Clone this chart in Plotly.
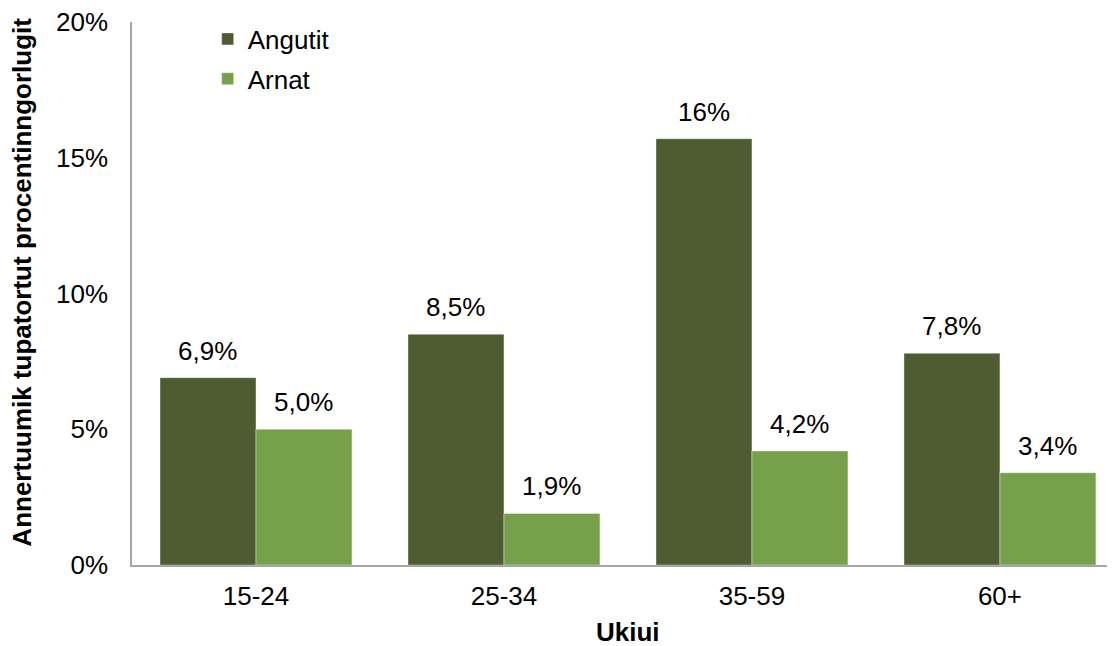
import plotly.graph_objects as go

categories = ["15-24", "25-34", "35-59", "60+"]
angutit = [6.9, 8.5, 15.7, 7.8]
arnat = [5.0, 1.9, 4.2, 3.4]
angutit_labels = ["6,9%", "8,5%", "16%", "7,8%"]
arnat_labels = ["5,0%", "1,9%", "4,2%", "3,4%"]
y_ticks = [0, 5, 10, 15, 20]
y_tick_text = ["0%", "5%", "10%", "15%", "20%"]

dark = "#4F5B31"
light = "#77A04A"
font_family = "Liberation Sans, Arial, sans-serif"
FS = 26

fig = go.Figure()
fig.add_trace(go.Bar(x=categories, y=angutit, name="Angutit", legendgroup="a",
                     marker=dict(color=dark, line=dict(color="rgba(255,255,255,0.5)", width=0.75))))
fig.add_trace(go.Bar(x=categories, y=arnat, name="Arnat", legendgroup="b",
                     marker=dict(color=light, line=dict(color="rgba(255,255,255,0.5)", width=0.75))))

annotations = []
for i, c in enumerate(categories):
    annotations.append(dict(x=c, y=angutit[i], xref="x", yref="y", text=angutit_labels[i],
                            showarrow=False, xshift=-48, yanchor="bottom", yshift=10,
                            font=dict(size=FS, color="#000000", family=font_family)))
    annotations.append(dict(x=c, y=arnat[i], xref="x", yref="y", text=arnat_labels[i],
                            showarrow=False, xshift=48, yanchor="bottom", yshift=10,
                            font=dict(size=FS, color="#000000", family=font_family)))

# axis titles
annotations.append(dict(x=0.5046, y=0, xref="paper", yref="paper", text="<b>Ukiui</b>",
                        showarrow=False, yanchor="middle", yshift=-67,
                        font=dict(size=FS, color="#000000", family=font_family)))
annotations.append(dict(x=0, y=0.52, xref="paper", yref="paper",
                        text="<b>Annertuumik tupatortut procentinngorlugit</b>",
                        showarrow=False, textangle=-90, xanchor="center", yanchor="middle",
                        xshift=-110, font=dict(size=FS, color="#000000", family=font_family)))

fig.update_layout(
    width=1107, height=638,
    margin=dict(l=124, r=0, t=14, b=81),
    paper_bgcolor="white", plot_bgcolor="white",
    barmode="group", bargap=0.226, bargroupgap=0,
    font=dict(family=font_family, size=FS, color="#000000"),
    legend=dict(x=0.077, y=1.012, xanchor="left", yanchor="top", bgcolor="rgba(0,0,0,0)",
                font=dict(size=FS), itemwidth=30, tracegroupgap=3),
    annotations=annotations,
    xaxis=dict(range=[-0.5, 3.464], showline=True, linecolor="#A6A6A6", linewidth=1.5,
               ticks="", showgrid=False, ticklabelstandoff=7),
    yaxis=dict(range=[0, 20], tickvals=y_ticks, ticktext=y_tick_text, showline=True,
               linecolor="#A6A6A6", linewidth=1.5, ticks="", showgrid=False, zeroline=False,
               ticklabelstandoff=17, ticklabeloverflow="allow"),
)

fig.write_html("out.html")
